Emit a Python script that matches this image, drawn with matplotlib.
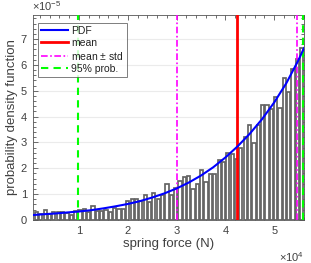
import matplotlib
matplotlib.use("Agg")
import matplotlib.pyplot as plt
from matplotlib.ticker import MultipleLocator, FuncFormatter

plt.rcParams['font.family'] = ['Liberation Sans', 'DejaVu Sans']
plt.rcParams['mathtext.fontset'] = 'custom'
plt.rcParams['mathtext.rm'] = 'Liberation Sans'
plt.rcParams['mathtext.it'] = 'Liberation Sans'

# ---- data (force in N, density in 1/N) ----
bin_start = 840.0
bin_width = 891.0
hist_density_e5 = [0.32, 0.22, 0.37, 0.22, 0.30, 0.32, 0.32, 0.27, 0.19, 0.35,
                   0.37, 0.43, 0.30, 0.53, 0.36, 0.36, 0.39, 0.31, 0.47, 0.44,
                   0.41, 0.75, 0.80, 0.83, 0.72, 0.96, 0.70, 1.03, 0.80, 0.97,
                   1.40, 0.97, 1.25, 1.52, 1.68, 1.70, 1.21, 1.40, 1.94, 1.48,
                   1.78, 1.78, 2.31, 2.26, 2.60, 2.57, 2.36, 2.80, 3.22, 3.66,
                   2.96, 3.68, 4.43, 4.46, 4.28, 4.74, 4.35, 5.49, 4.97, 5.85,
                   6.24, 6.65]
pdf_force = [470, 2500, 5000, 7500, 10000, 12500, 15000, 17500, 20000, 22500,
             25000, 27500, 30000, 32500, 35000, 37500, 40000, 42500, 45000,
             47500, 50000, 52500, 55000, 56100]
pdf_e5 = [0.19, 0.22, 0.25, 0.29, 0.33, 0.38, 0.45, 0.53, 0.62, 0.73,
          0.87, 1.03, 1.22, 1.45, 1.72, 2.04, 2.42, 2.85, 3.34, 3.90,
          4.55, 5.30, 6.20, 6.65]
mean_force = 42400
std_lines = [30100, 54700]
prob95_lines = [9800, 55900]
xlim = (470, 56100)
ylim_e5 = (0, 7.95)

fig = plt.figure(figsize=(3.11, 2.63), dpi=100)
ax = fig.add_axes([32.5/311, 43/263, (304-32.5)/311, (248.5-43)/263])

centers = [bin_start + bin_width*(i+0.5) for i in range(len(hist_density_e5))]
heights = [h*1e-5 for h in hist_density_e5]
ax.bar(centers, heights, width=bin_width*0.74, color='white',
       edgecolor='#646464', linewidth=1.25, zorder=2)

ax.plot(pdf_force, [p*1e-5 for p in pdf_e5], color='#0000ff', lw=1.5,
        label='PDF', zorder=4)
ax.axvline(mean_force, color='#ff0000', lw=2.0, label='mean', zorder=3)
for i, s in enumerate(std_lines):
    ax.axvline(s, color='#ff00ff', lw=1.2, ls=(0, (4, 1.5, 1, 1.5)),
               label='mean $\\pm$ std' if i == 0 else None, zorder=3)
for i, p in enumerate(prob95_lines):
    ax.axvline(p, color='#00ff00', lw=1.5, ls=(0, (3.5, 2.5)),
               label='95% prob.' if i == 0 else None, zorder=3)

ax.set_xlim(*xlim)
ax.set_ylim(ylim_e5[0]*1e-5, ylim_e5[1]*1e-5)
ax.xaxis.set_major_locator(MultipleLocator(10000))
ax.xaxis.set_minor_locator(MultipleLocator(2000))
ax.yaxis.set_major_locator(MultipleLocator(1e-5))
ax.yaxis.set_minor_locator(MultipleLocator(0.2e-5))
ax.xaxis.set_major_formatter(FuncFormatter(lambda v, p: '%d' % round(v/1e4)))
ax.yaxis.set_major_formatter(FuncFormatter(lambda v, p: '%d' % round(v/1e-5)))

axcol = '#555555'
ax.tick_params(which='both', direction='in', top=True, right=True,
               color=axcol, labelcolor='#404040', labelsize=8, width=0.6)
ax.tick_params(which='major', length=3.5, pad=4)
ax.tick_params(which='minor', length=2)
for sp in ax.spines.values():
    sp.set_color(axcol)
    sp.set_linewidth(0.6)
ax.grid(axis='y', which='major', color='#ebebeb', lw=0.8, zorder=0)
ax.set_axisbelow(True)

ax.set_xlabel('spring force (N)', fontsize=9.5, color='#404040', labelpad=2)
ax.set_ylabel('probability density function', fontsize=9.5, color='#404040', labelpad=2)
ax.text(0.0, 1.005, '$\\times10^{-5}$', transform=ax.transAxes, fontsize=8,
        color='#404040', ha='left', va='bottom')
ax.text(1.0, -0.145, '$\\times10^{4}$', transform=ax.transAxes, fontsize=8,
        color='#404040', ha='right', va='top')

leg = ax.legend(loc='upper left', bbox_to_anchor=(0.02, 0.96), fontsize=7.5,
                frameon=True, fancybox=False, edgecolor='#444444',
                handlelength=2.6, handletextpad=0.3, borderpad=0.3,
                labelspacing=0.2, borderaxespad=0)
leg.get_frame().set_linewidth(0.6)
for t in leg.get_texts():
    t.set_color('#222222')

fig.savefig('out.png', dpi=100)
